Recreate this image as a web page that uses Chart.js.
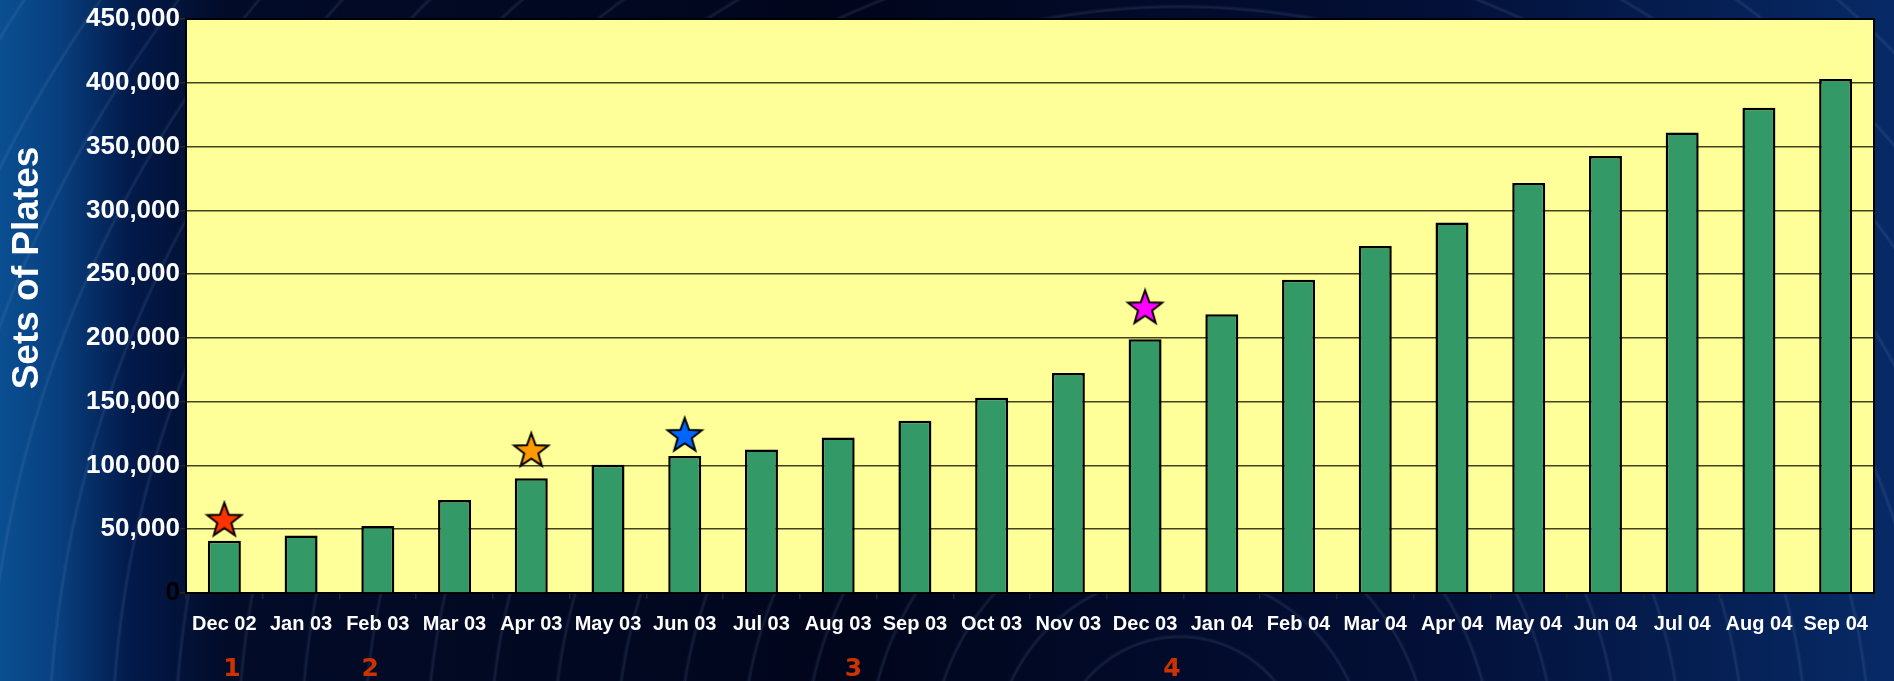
<!DOCTYPE html>
<html>
<head>
<meta charset="utf-8">
<script src="https://cdn.jsdelivr.net/npm/chart.js@4/dist/chart.umd.min.js"></script>
<style>
  html, body { margin: 0; padding: 0; }
  body {
    width: 1894px; height: 681px; overflow: hidden;
    background:
      repeating-radial-gradient(circle at 1180px 760px, rgba(120,150,200,0) 0px, rgba(120,150,200,0) 58px, rgba(120,150,200,0.16) 60px, rgba(120,150,200,0) 63px),
      linear-gradient(90deg, #0a4f92 0px, #083f7e 60px, #031a4a 130px, #020b28 230px, #01061c 45%, #030f36 75%, #072a66 100%);
  }
  #wrap { position: relative; width: 1894px; height: 681px; }
</style>
</head>
<body>
<div id="wrap"><canvas id="chartjs" width="1894" height="681"></canvas></div>
<script>
const months = ["Dec 02", "Jan 03", "Feb 03", "Mar 03", "Apr 03", "May 03", "Jun 03", "Jul 03",
  "Aug 03", "Sep 03", "Oct 03", "Nov 03", "Dec 03", "Jan 04", "Feb 04", "Mar 04", "Apr 04",
  "May 04", "Jun 04", "Jul 04", "Aug 04", "Sep 04"];
const plates = [41000, 45000, 52500, 73000, 90000, 100500, 107500, 112500, 122000, 135000,
  153000, 172500, 199000, 218500, 245500, 272000, 290500, 321500, 342500, 361000, 380500, 403000];
// star markers above some bars
const starValues = [57500, null, null, null, 112000, null, 124000, null, null, null, null, null,
  224000, null, null, null, null, null, null, null, null, null];
const starColors = ["#ff3300", null, null, null, "#ff9900", null, "#0066ff", null, null, null,
  null, null, "#ff00ff", null, null, null, null, null, null, null, null, null];
// numbered notes under the axis (fractional category index)
const noteLabels = ["1", "2", "3", "4"];
const notePos = [0.1, 1.9, 8.2, 12.35];
const yMax = 450000;
const yStep = 50000;

const makeStar = (color) => {
  const c = document.createElement("canvas");
  c.width = 40; c.height = 40;
  const g = c.getContext("2d");
  const cx = 20, cy = 21, ro = 18, ri = 7.4;
  g.beginPath();
  for (let i = 0; i < 10; i++) {
    const r = i % 2 === 0 ? ro : ri;
    const a = -Math.PI / 2 + i * Math.PI / 5;
    const px = cx + r * Math.cos(a), py = cy + r * Math.sin(a);
    if (i === 0) g.moveTo(px, py); else g.lineTo(px, py);
  }
  g.closePath();
  g.fillStyle = color;
  g.fill();
  g.lineWidth = 2;
  g.strokeStyle = "#000";
  g.stroke();
  return c;
};
const starImages = starColors.map((c) => (c ? makeStar(c) : "circle"));

const plotBg = {
  id: "plotBg",
  beforeDraw(chart) {
    const { ctx, chartArea: a } = chart;
    ctx.save();
    ctx.fillStyle = "#ffff99";
    ctx.fillRect(a.left, a.top, a.right - a.left, a.bottom - a.top);
    ctx.restore();
  },
  afterDraw(chart) {
    const { ctx, chartArea: a } = chart;
    ctx.save();
    ctx.strokeStyle = "#000";
    ctx.lineWidth = 2;
    ctx.beginPath();
    ctx.moveTo(a.left, a.top);
    ctx.lineTo(a.right, a.top);
    ctx.lineTo(a.right, a.bottom);
    ctx.stroke();

    // y title
    ctx.translate(28, 268);
    ctx.rotate(-Math.PI / 2);
    ctx.fillStyle = "#ffffff";
    ctx.font = "bold 37px Arial, 'Liberation Sans', sans-serif";
    ctx.textAlign = "center";
    ctx.textBaseline = "middle";
    ctx.fillText("Sets of Plates", 0, 0);
    ctx.restore();

    // notes
    const x = chart.scales.x;
    ctx.save();
    ctx.fillStyle = "#cc3300";
    ctx.font = "bold 25px 'DejaVu Sans', Verdana, sans-serif";
    ctx.textAlign = "center";
    ctx.textBaseline = "middle";
    noteLabels.forEach((t, i) => {
      ctx.fillText(t, x.getPixelForValue(notePos[i]), 669);
    });
    ctx.restore();
  }
};

const initChart = () => {
  const chartElem = document.getElementById("chartjs");
  new Chart(chartElem, {
    type: "bar",
    data: {
      labels: months,
      datasets: [
        {
          type: "line",
          label: "Milestones",
          data: starValues,
          showLine: false,
          pointStyle: starImages,
          pointRadius: 18,
          order: 0
        },
        {
          label: "Sets of Plates",
          data: plates,
          backgroundColor: "#339966",
          borderColor: "#000000",
          borderWidth: 2.5,
          categoryPercentage: 1,
          barPercentage: 0.43,
          order: 1
        }
      ]
    },
    options: {
      responsive: false,
      animation: false,
      layout: { padding: { top: 17, right: 20, left: 0, bottom: 0 } },
      plugins: {
        legend: { display: false },
        tooltip: { enabled: false }
      },
      scales: {
        x: {
          offset: true,
          border: { display: true, color: "#000", width: 2 },
          grid: {
            display: true,
            offset: true,
            drawOnChartArea: false,
            tickLength: 6,
            color: "#222222",
            lineWidth: 1.5
          },
          ticks: {
            color: "#ffffff",
            font: { family: "Arial, 'Liberation Sans', sans-serif", size: 20, weight: "bold" },
            maxRotation: 0,
            autoSkip: false,
            padding: 13
          },
          afterFit(scale) { scale.height = 681 - 593; }
        },
        y: {
          min: 0,
          max: yMax,
          border: { display: true, color: "#000", width: 2 },
          grid: {
            color: "rgba(45,45,20,0.9)",
            lineWidth: 1.5,
            tickLength: 6
          },
          ticks: {
            stepSize: yStep,
            padding: 0,
            color: (c) => (c.tick && c.tick.value === 0 ? "#000000" : "#ffffff"),
            font: { family: "Arial, 'Liberation Sans', sans-serif", size: 26, weight: "bold" },
            callback: (v) => v.toLocaleString("en-US")
          },
          afterFit(scale) { scale.width = 186; }
        }
      }
    },
    plugins: [plotBg]
  });
};

initChart();
</script>
</body>
</html>
